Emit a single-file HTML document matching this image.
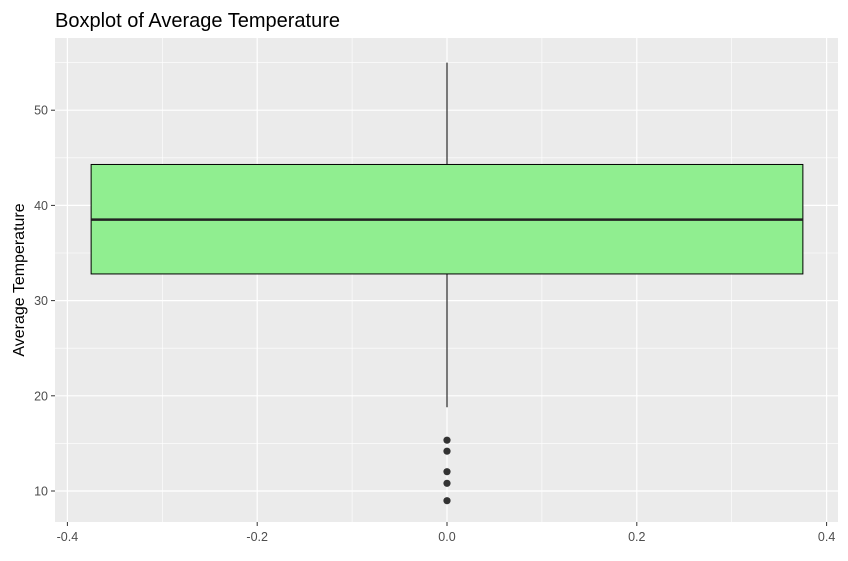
<!DOCTYPE html>
<html><head><meta charset="utf-8"><style>
body{margin:0;background:#fff;}
text{font-family:"Liberation Sans",sans-serif;}
</style></head><body>
<svg id="chart" width="848" height="556" xmlns="http://www.w3.org/2000/svg">
<text x="55" y="27" font-size="20" fill="#000">Boxplot of Average Temperature</text>
<rect x="55" y="38" width="783" height="484" fill="#ebebeb"/>
<g id="grid"></g><g id="marks"></g><g id="axes"></g>
<text transform="translate(24,280) rotate(-90)" text-anchor="middle" font-size="16" fill="#000">Average Temperature</text>
</svg>
<script>
const xTicks=[-0.4,-0.2,0.0,0.2,0.4];
const xTickLabels=["-0.4","-0.2","0.0","0.2","0.4"];
const yTicks=[10,20,30,40,50];
const yTickLabels=["10","20","30","40","50"];
const boxStats=[18.8,32.8,38.5,44.3,55.0]; // lower whisker, Q1, median, Q3, upper whisker
const boxHalfWidth=[0.375];
const outliers=[15.34,14.18,12.03,10.81,8.98];
const NS="http://www.w3.org/2000/svg";
const px0=55,px1=838,py0=38,py1=522;
const xs=v=>447+v*949;
const ys=v=>491-(v-10)*9.52;
function mk(tag,attrs,parent){const e=document.createElementNS(NS,tag);for(const k in attrs)e.setAttribute(k,attrs[k]);document.getElementById(parent).appendChild(e);return e;}
// minor grid
for(let i=0;i<xTicks.length-1;i++){const m=(xTicks[i]+xTicks[i+1])/2;const l=mk('line',{x1:xs(m),x2:xs(m),y1:py0,y2:py1,stroke:'#fff','stroke-width':0.6},'grid');

}
for(let i=0;i<yTicks.length-1;i++){const m=(yTicks[i]+yTicks[i+1])/2;const l=mk('line',{x1:px0,x2:px1,y1:ys(m),y2:ys(m),stroke:'#fff','stroke-width':0.6},'grid');

}
{const lo=yTicks[0]-5;if(ys(lo)<py1){const l=mk('line',{x1:px0,x2:px1,y1:ys(lo),y2:ys(lo),stroke:'#fff','stroke-width':0.6},'grid');

}
const hi=yTicks[yTicks.length-1]+5;if(ys(hi)>py0){const l=mk('line',{x1:px0,x2:px1,y1:ys(hi),y2:ys(hi),stroke:'#fff','stroke-width':0.6},'grid');

}}
xTicks.forEach((t,i)=>{const l=mk('line',{x1:xs(t),x2:xs(t),y1:py0,y2:py1,stroke:'#fff','stroke-width':1.2},'grid');


const tk=mk('line',{x1:xs(t),x2:xs(t),y1:py1,y2:py1+4,stroke:'#333','stroke-width':1},'axes');


const tx=mk('text',{x:xs(t),y:py1+19,'text-anchor':'middle','font-size':'12.5',fill:'#4d4d4d'},'axes');tx.textContent=xTickLabels[i];

});
yTicks.forEach((t,i)=>{const l=mk('line',{x1:px0,x2:px1,y1:ys(t),y2:ys(t),stroke:'#fff','stroke-width':1.2},'grid');


const tk=mk('line',{x1:px0-4,x2:px0,y1:ys(t),y2:ys(t),stroke:'#333','stroke-width':1},'axes');


const tx=mk('text',{x:px0-7,y:ys(t)+4.5,'text-anchor':'end','font-size':'12.5',fill:'#4d4d4d'},'axes');tx.textContent=yTickLabels[i];

});
const cx=xs(0);
const w1=mk('line',{x1:cx,x2:cx,y1:ys(boxStats[3]),y2:ys(boxStats[4]),stroke:'#000','stroke-width':1},'marks');


const w2=mk('line',{x1:cx,x2:cx,y1:ys(boxStats[0]),y2:ys(boxStats[1]),stroke:'#000','stroke-width':1},'marks');


const bx=mk('rect',{x:xs(-boxHalfWidth[0]),y:ys(boxStats[3]),width:xs(boxHalfWidth[0])-xs(-boxHalfWidth[0]),height:ys(boxStats[1])-ys(boxStats[3]),fill:'#90ee90',stroke:'#000','stroke-width':1},'marks');


const md=mk('line',{x1:xs(-boxHalfWidth[0]),x2:xs(boxHalfWidth[0]),y1:ys(boxStats[2]),y2:ys(boxStats[2]),stroke:'#222','stroke-width':2.5},'marks');


outliers.forEach(v=>{const c=mk('circle',{cx:cx,cy:ys(v),r:3.6,fill:'#333'},'marks');

});
</script>
</body></html>
